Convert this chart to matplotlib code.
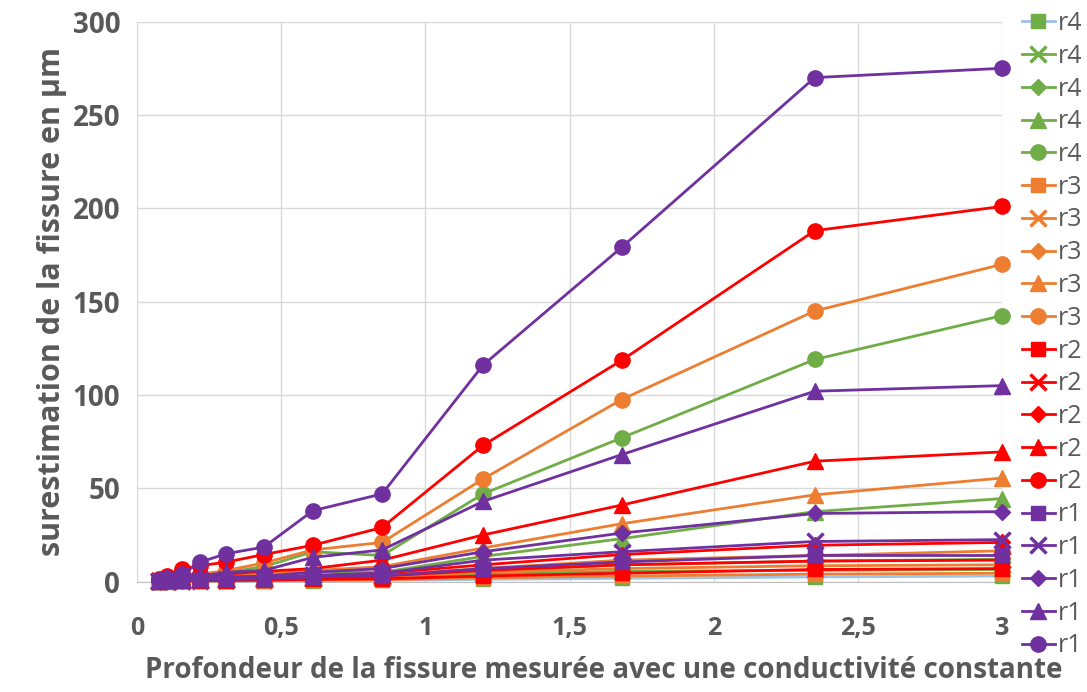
import matplotlib.pyplot as plt
import numpy as np

# profondeur mesuree (x) commune a toutes les series
x = [0.075, 0.105, 0.155, 0.22, 0.31, 0.44, 0.61, 0.85, 1.2, 1.68, 2.35, 3.0]

labels = ['r4', 'r4', 'r4', 'r4', 'r4',
          'r3', 'r3', 'r3', 'r3', 'r3',
          'r2', 'r2', 'r2', 'r2', 'r2',
          'r1', 'r1', 'r1', 'r1', 'r1']

# r4 (vert)
r4_sq = [0, 0.1, 0.1, 0.2, 0.3, 0.4, 0.5, 0.7, 1.2, 1.8, 2.5, 3]
r4_x = [0.1, 0.2, 0.3, 0.5, 0.7, 0.9, 1.2, 2, 4, 5.5, 6, 6.5]
r4_dia = [0.2, 0.3, 0.5, 0.7, 1, 1.3, 2, 3, 5.5, 9, 11, 12]
r4_tri = [0.3, 0.5, 1, 1.5, 2, 3, 5.5, 5, 13.5, 23, 37.5, 44.5]
r4_circ = [1, 1.5, 2, 3.5, 5, 8, 16, 14, 47, 77, 119, 142.5]
# r3 (orange)
r3_sq = [0.1, 0.1, 0.2, 0.3, 0.4, 0.6, 0.9, 1, 2, 3, 4, 4.5]
r3_x = [0.2, 0.3, 0.4, 0.6, 0.8, 1, 1.5, 2.5, 5, 7, 8.5, 9]
r3_dia = [0.2, 0.4, 0.6, 0.8, 1.2, 1.6, 2.5, 3.5, 7, 11.5, 14, 16.5]
r3_tri = [0.5, 1, 1.5, 2, 3, 4, 6, 8, 18, 31, 46.5, 55.5]
r3_circ = [1, 2, 3, 4, 6, 10, 17, 21, 55, 97.5, 145, 170]
# r2 (rouge)
r2_sq = [0.1, 0.2, 0.3, 0.4, 0.6, 0.8, 1.2, 1.5, 3, 4.5, 6.5, 7]
r2_x = [0.2, 0.3, 0.5, 0.7, 1, 1.3, 2, 3, 6, 9, 11, 11.5]
r2_dia = [0.3, 0.5, 0.8, 1, 1.5, 2, 3, 4.5, 9, 14.5, 19.5, 21]
r2_tri = [0.5, 1, 2.5, 3, 4, 5.5, 7, 11.5, 25, 41, 64.5, 69.5]
r2_circ = [1.5, 3, 7, 8.5, 10.5, 14.5, 19.5, 29, 73, 118.5, 188, 201]
# r1 (violet)
r1_sq = [0.2, 0.4, 0.6, 0.8, 1.2, 1.5, 2.5, 3, 7, 10.5, 14, 14]
r1_x = [0.3, 0.5, 0.8, 1, 1.5, 2, 3.5, 4.5, 11.5, 16, 21.5, 22.5]
r1_dia = [0.5, 1, 1, 2, 2.5, 3, 5, 7, 16, 26, 36.5, 37.5]
r1_tri = [0.5, 1, 1.5, 3, 5, 6, 13, 17, 43, 68, 102, 105]
r1_circ = [1, 2, 4, 10.5, 15, 18.5, 38, 47, 116, 179, 270, 275]

series = [r4_sq, r4_x, r4_dia, r4_tri, r4_circ,
          r3_sq, r3_x, r3_dia, r3_tri, r3_circ,
          r2_sq, r2_x, r2_dia, r2_tri, r2_circ,
          r1_sq, r1_x, r1_dia, r1_tri, r1_circ]

xticks = [0, 0.5, 1, 1.5, 2, 2.5, 3]
xticklabels = ['0', '0,5', '1', '1,5', '2', '2,5', '3']
yticks = [0, 50, 100, 150, 200, 250, 300]

colors = {'r4': '#70AD47', 'r3': '#ED7D31', 'r2': '#FF0000', 'r1': '#7030A0'}
markers = ['s', 'x', 'D', '^', 'o']
msizes = [10, 11, 8, 11, 11]
grey = '#595959'

plt.rcParams['font.family'] = ['Open Sans', 'DejaVu Sans']

fig = plt.figure(figsize=(10.87, 6.92), dpi=100)
ax = fig.add_axes([0.126, 0.1595, 0.796, 0.8093])

for i, (lab, y) in enumerate(zip(labels, series)):
    c = colors[lab]
    lc = '#9DC3E6' if i == 0 else c
    m = markers[i % 5]
    ax.plot(x, y, color=lc, lw=2, marker=m, markersize=msizes[i % 5],
            markerfacecolor=c, markeredgecolor=c,
            markeredgewidth=2.5 if m == 'x' else 1, label=lab,
            clip_on=False, zorder=3 + i * 0.01)

ax.set_xlim(0, 3)
ax.set_ylim(0, 300)
ax.set_xticks(xticks)
ax.set_xticklabels(xticklabels)
ax.set_yticks(yticks)
ax.grid(True, color='#D9D9D9', lw=1)
ax.set_axisbelow(True)
for s in ['top', 'right', 'left']:
    ax.spines[s].set_visible(False)
ax.spines['bottom'].set_color('#BFBFBF')
ax.tick_params(length=0, colors=grey)
ax.tick_params(axis='y', labelsize=20, pad=12)
ax.tick_params(axis='x', labelsize=18, pad=25)
for t in ax.get_xticklabels() + ax.get_yticklabels():
    t.set_fontweight('bold')

ax.set_ylabel('surestimation de la fissure en µm', fontsize=22,
              fontweight='bold', color=grey, labelpad=4)
fig.text(145 / 1087, 1 - 670 / 692,
         'Profondeur de la fissure mesurée avec une conductivité constante',
         fontsize=20, fontweight='bold', color=grey, ha='left', va='center')

leg = fig.legend(loc='upper left', bbox_to_anchor=(1012 / 1087, 1 - 1 / 692),
                 frameon=False, fontsize=18, labelspacing=0.31,
                 handlelength=1.3, handletextpad=0.15, borderaxespad=0)
for t in leg.get_texts():
    t.set_color(grey)

fig.savefig('out.png', dpi=100)
